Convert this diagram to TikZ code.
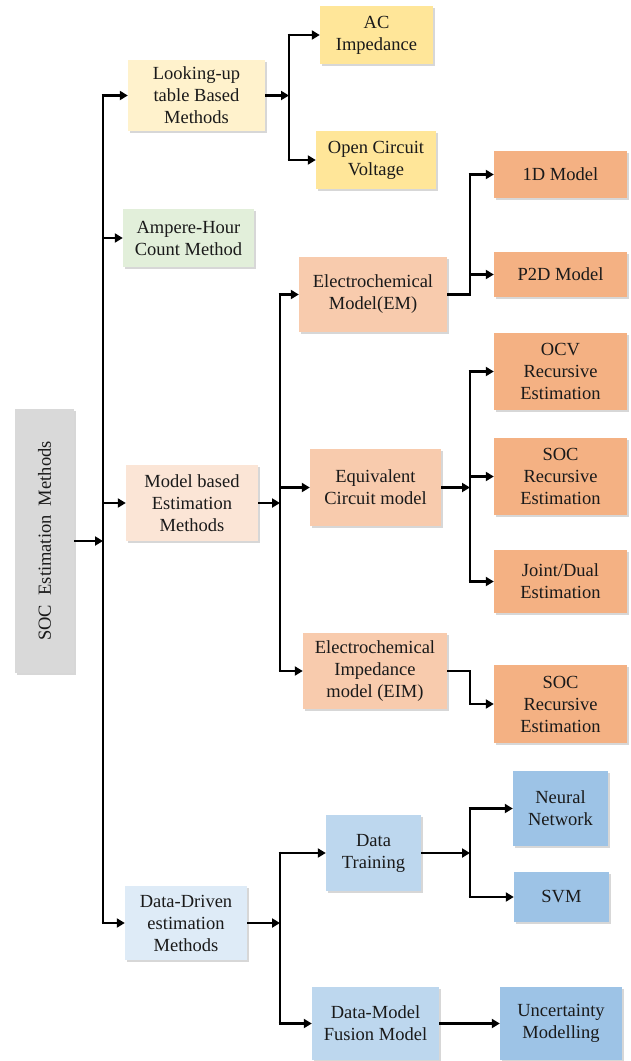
\documentclass[tikz,border=0pt]{standalone}
\usepackage{fontspec}
\setmainfont{Liberation Serif}
\usetikzlibrary{arrows.meta,shadows}
\definecolor{cLutA}{HTML}{FFF2CC}
\definecolor{cLutB}{HTML}{FFE699}
\definecolor{cAh}{HTML}{E2EFDA}
\definecolor{cMbA}{HTML}{FBE5D6}
\definecolor{cMbB}{HTML}{F8CBAD}
\definecolor{cMbC}{HTML}{F4B183}
\definecolor{cGray}{HTML}{D9D9D9}
\definecolor{cDdA}{HTML}{DEEBF7}
\definecolor{cDdB}{HTML}{BDD7EE}
\definecolor{cDdC}{HTML}{9DC3E6}
\definecolor{cTxt}{HTML}{1A1A1A}
\tikzset{
  box/.style={draw=none, inner sep=0pt, align=center, text=cTxt,
    font=\fontsize{18.5}{22}\selectfont,
    drop shadow={shadow xshift=2pt, shadow yshift=-2pt, fill=black!35, opacity=0.45}},
  ln/.style={line width=2.8pt, draw=black, line cap=butt},
  arr/.style={ln, -{Triangle[length=8pt,width=9pt]}}
}
\begin{document}
\begin{tikzpicture}[x=1pt,y=-1pt]
\useasboundingbox (0,0) rectangle (631,1061);
% root
\node[box, fill=cGray, minimum width=59, minimum height=264] (soc) at (44.5,541) {\rotatebox{90}{SOC\enspace Estimation\enspace Methods}};
% level 1
\node[box, fill=cLutA, minimum width=137, minimum height=71] (lut) at (196.5,95.5) {Looking-up\\table Based\\Methods};
\node[box, fill=cAh, minimum width=131, minimum height=58] (ah) at (188.5,238) {Ampere-Hour\\Count Method};
\node[box, fill=cMbA, minimum width=132, minimum height=76] (mbe) at (192,503) {Model based\\Estimation\\Methods};
\node[box, fill=cDdA, minimum width=122, minimum height=74] (dde) at (186,923) {Data-Driven\\estimation\\Methods};
% LUT children
\node[box, fill=cLutB, minimum width=113, minimum height=58] (ac) at (376.5,35) {AC\\Impedance};
\node[box, fill=cLutB, minimum width=120, minimum height=58] (ocv) at (376,160) {Open Circuit\\Voltage};
% model based children
\node[box, fill=cMbB, minimum width=148, minimum height=75] (em) at (373,294.5) {Electrochemical\\Model(EM)};
\node[box, fill=cMbB, minimum width=131, minimum height=77] (ecm) at (375.5,487.5) {Equivalent\\Circuit model};
\node[box, fill=cMbB, minimum width=144, minimum height=76] (eim) at (375,671) {Electrochemical\\Impedance\\model (EIM)};
% leaves
\node[box, fill=cMbC, minimum width=133, minimum height=47] (oned) at (560.5,174.5) {1D Model};
\node[box, fill=cMbC, minimum width=133, minimum height=45] (ptwod) at (560.5,274.5) {P2D Model};
\node[box, fill=cMbC, minimum width=133, minimum height=77] (ocvre) at (560.5,371.5) {OCV\\Recursive\\Estimation};
\node[box, fill=cMbC, minimum width=133, minimum height=77] (socre) at (560.5,476.5) {SOC\\Recursive\\Estimation};
\node[box, fill=cMbC, minimum width=133, minimum height=63] (jd) at (560.5,581.5) {Joint/Dual\\Estimation};
\node[box, fill=cMbC, minimum width=133, minimum height=78] (socreb) at (560.5,704) {SOC\\Recursive\\Estimation};
% data driven children
\node[box, fill=cDdB, minimum width=95, minimum height=76] (dt) at (373.5,853) {Data\\Training};
\node[box, fill=cDdB, minimum width=127, minimum height=73] (dmf) at (375.5,1023.5) {Data-Model\\Fusion Model};
\node[box, fill=cDdC, minimum width=95, minimum height=75] (nn) at (560.5,808.5) {Neural\\Network};
\node[box, fill=cDdC, minimum width=95, minimum height=50] (svm) at (561.5,897) {SVM};
\node[box, fill=cDdC, minimum width=122, minimum height=73] (um) at (561,1023.5) {Uncertainty\\Modelling};
% junction coordinates
\coordinate (j0) at (103,541);
\coordinate (j1) at (289,95.5);
\coordinate (j2) at (280,503);
\coordinate (j3) at (470,294.5);
\coordinate (j4) at (470,487.5);
\coordinate (j5) at (470,671);
\coordinate (j6) at (280,923);
\coordinate (j7) at (470,853);
% root connectors
\draw[arr] (soc.east) -- (j0);
\draw[ln] ([yshift=1.4pt]j0|-lut.west) -- ([yshift=-1.4pt]j0|-dde.west);
\draw[arr] ([xshift=-1.4pt]j0|-lut.west) -- (lut.west);
\draw[arr] (j0|-ah.west) -- (ah.west);
\draw[arr] (j0|-mbe.west) -- (mbe.west);
\draw[arr] ([xshift=-1.4pt]j0|-dde.west) -- (dde.west);
% LUT branch
\draw[arr] (lut.east) -- (j1);
\draw[ln] ([yshift=1.4pt]j1|-ac.west) -- ([yshift=-1.4pt]j1|-ocv.west);
\draw[arr] ([xshift=-1.4pt]j1|-ac.west) -- (ac.west);
\draw[arr] ([xshift=-1.4pt]j1|-ocv.west) -- (ocv.west);
% model based branch
\draw[arr] (mbe.east) -- (j2);
\draw[ln] ([yshift=1.4pt]j2|-em.west) -- ([yshift=-1.4pt]j2|-eim.west);
\draw[arr] ([xshift=-1.4pt]j2|-em.west) -- (em.west);
\draw[arr] (j2|-ecm.west) -- (ecm.west);
\draw[arr] ([xshift=-1.4pt]j2|-eim.west) -- (eim.west);
% EM branch
\draw[ln] (em.east) -- ([xshift=1.4pt]j3);
\draw[ln] ([yshift=1.4pt]j3|-oned.west) -- ([yshift=-1.4pt]j3);
\draw[arr] ([xshift=-1.4pt]j3|-oned.west) -- (oned.west);
\draw[arr] (j3|-ptwod.west) -- (ptwod.west);
% ECM branch
\draw[arr] (ecm.east) -- (j4);
\draw[ln] ([yshift=1.4pt]j4|-ocvre.west) -- ([yshift=-1.4pt]j4|-jd.west);
\draw[arr] ([xshift=-1.4pt]j4|-ocvre.west) -- (ocvre.west);
\draw[arr] (j4|-socre.west) -- (socre.west);
\draw[arr] ([xshift=-1.4pt]j4|-jd.west) -- (jd.west);
% EIM branch
\draw[arr] (eim.east) -- (j5) |- (socreb.west);
% data driven branch
\draw[arr] (dde.east) -- (j6);
\draw[ln] ([yshift=1.4pt]j6|-dt.west) -- ([yshift=-1.4pt]j6|-dmf.west);
\draw[arr] ([xshift=-1.4pt]j6|-dt.west) -- (dt.west);
\draw[arr] ([xshift=-1.4pt]j6|-dmf.west) -- (dmf.west);
% DT branch
\draw[arr] (dt.east) -- (j7);
\draw[ln] ([yshift=1.4pt]j7|-nn.west) -- ([yshift=-1.4pt]j7|-svm.west);
\draw[arr] ([xshift=-1.4pt]j7|-nn.west) -- (nn.west);
\draw[arr] ([xshift=-1.4pt]j7|-svm.west) -- (svm.west);
% fusion
\draw[arr] (dmf.east) -- (um.west);
\end{tikzpicture}
\end{document}
